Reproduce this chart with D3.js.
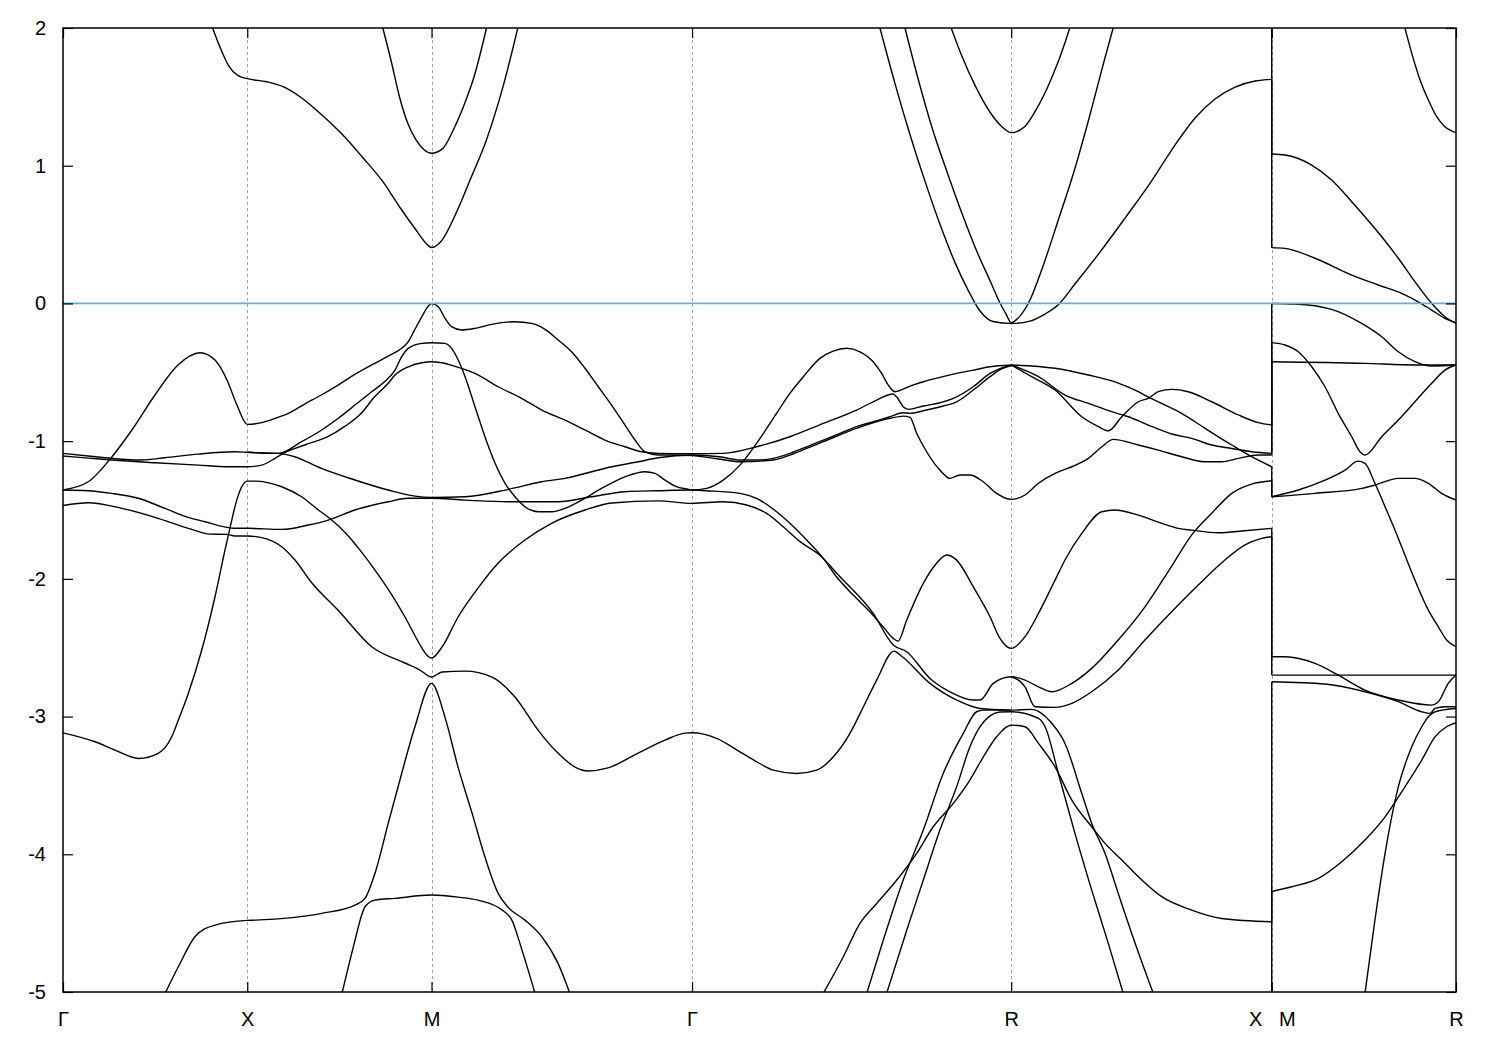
<!DOCTYPE html>
<html><head><meta charset="utf-8">
<script src="https://cdn.jsdelivr.net/npm/d3@7"></script>
<style>
body{margin:0;background:#fff;}
svg{display:block;}
</style></head><body>
<svg id="chart" width="1500" height="1050"></svg>
<script>
// high-symmetry path positions (k) and labels
const kTicks=[0,1,2,3.414,5.146,6.560,7.560];
const kLabels=["Γ","X","M","Γ","R","X\u00a0\u00a0\u00a0M","R"];
const eTicks=[2,1,0,-1,-2,-3,-4,-5];

// bands: [k, E(eV)]
const bandTopA=[[0.812,2.0],[0.857,1.845],[0.901,1.722],[0.948,1.656],[1.0,1.632],[1.105,1.610],[1.194,1.574],[1.286,1.501],[1.375,1.405],[1.510,1.235],[1.623,1.065],[1.736,0.884],[1.826,0.702],[1.916,0.533],[1.975,0.430],[2.0,0.406],[2.050,0.448],[2.141,0.678],[2.209,0.896],[2.298,1.187],[2.388,1.574],[2.468,1.998]];
const bandTopB=[[1.736,1.998],[1.780,1.766],[1.826,1.501],[1.871,1.308],[1.916,1.187],[1.961,1.114],[2.0,1.090],[2.062,1.126],[2.118,1.259],[2.187,1.477],[2.231,1.646],[2.298,1.998]];
const bandHump=[[0,-1.355],[0.137,-1.295],[0.266,-1.113],[0.374,-0.919],[0.499,-0.665],[0.624,-0.447],[0.744,-0.358],[0.825,-0.411],[0.890,-0.556],[0.944,-0.738],[1.0,-0.878],[1.078,-0.866],[1.150,-0.835],[1.223,-0.798],[1.311,-0.731],[1.402,-0.665],[1.493,-0.593],[1.584,-0.515],[1.675,-0.447],[1.765,-0.382],[1.838,-0.326],[1.874,-0.278],[1.910,-0.188],[1.947,-0.097],[1.983,-0.019],[2.0,0.0],[2.037,-0.024],[2.073,-0.108],[2.109,-0.169],[2.163,-0.193],[2.236,-0.181],[2.326,-0.152],[2.453,-0.133],[2.543,-0.145],[2.616,-0.188],[2.688,-0.266],[2.760,-0.351],[2.833,-0.471],[2.905,-0.605],[2.977,-0.738],[3.050,-0.883],[3.104,-0.992],[3.158,-1.077],[3.230,-1.101],[3.321,-1.101],[3.414,-1.105],[3.550,-1.128],[3.674,-1.150],[3.855,-1.137],[3.945,-1.101],[4.036,-1.053],[4.126,-1.004],[4.307,-0.907],[4.488,-0.835],[4.560,-0.818],[4.597,-0.827],[4.633,-0.943],[4.687,-1.077],[4.759,-1.210],[4.813,-1.270],[4.868,-1.246],[4.922,-1.246],[4.994,-1.295],[5.067,-1.379],[5.146,-1.423],[5.221,-1.391],[5.294,-1.306],[5.384,-1.234],[5.475,-1.186],[5.565,-1.125],[5.638,-1.041],[5.700,-0.987],[5.836,-1.028],[5.944,-1.065],[6.071,-1.113],[6.198,-1.150],[6.288,-1.150],[6.379,-1.125],[6.488,-1.101],[6.56,-1.101]];
const bandG2=[[0,-1.355],[0.137,-1.360],[0.264,-1.379],[0.409,-1.415],[0.553,-1.488],[0.678,-1.553],[0.771,-1.585],[0.870,-1.621],[0.923,-1.633],[1.0,-1.633],[1.187,-1.641],[1.331,-1.609],[1.440,-1.573],[1.584,-1.500],[1.765,-1.440],[1.874,-1.415],[2.0,-1.415],[2.182,-1.428],[2.417,-1.440],[2.688,-1.440],[2.869,-1.404],[3.050,-1.367],[3.230,-1.360],[3.414,-1.355],[3.488,-1.360],[3.674,-1.379],[3.764,-1.415],[3.873,-1.513],[3.945,-1.597],[4.036,-1.718],[4.126,-1.851],[4.198,-1.985],[4.289,-2.118],[4.379,-2.239],[4.452,-2.350],[4.506,-2.432],[4.532,-2.452],[4.579,-2.299],[4.669,-2.033],[4.741,-1.887],[4.795,-1.827],[4.850,-1.864],[4.940,-2.057],[5.031,-2.275],[5.085,-2.432],[5.146,-2.505],[5.221,-2.420],[5.294,-2.251],[5.384,-2.009],[5.438,-1.863],[5.529,-1.670],[5.638,-1.513],[5.709,-1.500],[5.836,-1.537],[5.963,-1.597],[6.053,-1.633],[6.125,-1.646],[6.270,-1.665],[6.413,-1.651],[6.56,-1.633]];
const bandG3=[[0,-1.467],[0.137,-1.447],[0.319,-1.488],[0.499,-1.553],[0.680,-1.633],[0.798,-1.675],[0.888,-1.677],[0.933,-1.689],[1.0,-1.689],[1.078,-1.701],[1.187,-1.767],[1.259,-1.863],[1.351,-2.030],[1.492,-2.226],[1.677,-2.495],[1.856,-2.611],[1.937,-2.662],[2.0,-2.713],[2.057,-2.676],[2.182,-2.670],[2.328,-2.713],[2.453,-2.858],[2.578,-3.098],[2.686,-3.265],[2.779,-3.367],[2.849,-3.395],[2.958,-3.373],[3.121,-3.265],[3.267,-3.171],[3.376,-3.120],[3.414,-3.118],[3.547,-3.158],[3.674,-3.256],[3.764,-3.328],[3.855,-3.389],[3.982,-3.413],[4.090,-3.389],[4.181,-3.292],[4.271,-3.122],[4.344,-2.929],[4.416,-2.735],[4.510,-2.525],[4.550,-2.560],[4.705,-2.759],[4.850,-2.880],[4.977,-2.941],[5.146,-2.953]];
const bandG4=[[0,-3.118],[0.174,-3.183],[0.282,-3.243],[0.409,-3.304],[0.517,-3.267],[0.590,-3.147],[0.626,-3.025],[0.680,-2.832],[0.753,-2.517],[0.825,-2.130],[0.879,-1.791],[0.906,-1.631],[0.943,-1.428],[0.970,-1.331],[1.0,-1.290],[1.042,-1.290],[1.187,-1.331],[1.295,-1.404],[1.386,-1.500],[1.440,-1.553],[1.536,-1.670],[1.612,-1.791],[1.693,-1.936],[1.775,-2.096],[1.856,-2.277],[1.945,-2.495],[1.974,-2.553],[2.0,-2.575],[2.057,-2.495],[2.144,-2.277],[2.252,-2.067],[2.361,-1.886],[2.507,-1.718],[2.654,-1.595],[2.833,-1.500],[2.979,-1.449],[3.229,-1.434],[3.414,-1.452],[3.583,-1.440],[3.710,-1.464],[3.819,-1.525],[3.909,-1.622],[4.0,-1.730],[4.100,-1.820],[4.217,-1.985],[4.397,-2.251],[4.506,-2.481],[4.579,-2.529],[4.705,-2.723],[4.814,-2.820],[4.940,-2.880],[4.977,-2.880],[5.049,-2.759],[5.146,-2.711],[5.221,-2.735],[5.294,-2.784],[5.367,-2.820],[5.475,-2.759],[5.583,-2.650],[5.727,-2.444],[5.872,-2.203],[6.017,-1.907],[6.125,-1.682],[6.234,-1.524],[6.343,-1.379],[6.451,-1.312],[6.56,-1.288]];
const bandGXu=[[0,-1.089],[0.137,-1.108],[0.264,-1.125],[0.427,-1.137],[0.553,-1.121],[0.734,-1.094],[0.933,-1.077],[1.0,-1.081],[1.078,-1.086],[1.169,-1.089],[1.295,-1.004],[1.404,-0.919],[1.494,-0.834],[1.585,-0.738],[1.675,-0.641],[1.745,-0.569],[1.802,-0.484],[1.838,-0.387],[1.874,-0.326],[1.947,-0.290],[2.0,-0.285],[2.073,-0.290],[2.109,-0.326],[2.145,-0.411],[2.182,-0.532],[2.236,-0.750],[2.290,-0.968],[2.345,-1.161],[2.399,-1.306],[2.453,-1.404],[2.507,-1.476],[2.580,-1.513],[2.652,-1.513],[2.724,-1.488],[2.815,-1.428],[2.923,-1.343],[3.050,-1.259],[3.158,-1.222],[3.213,-1.234],[3.267,-1.283],[3.321,-1.326],[3.394,-1.350],[3.414,-1.355],[3.493,-1.343],[3.583,-1.283],[3.674,-1.174],[3.764,-1.016],[3.855,-0.834],[3.945,-0.653],[4.018,-0.532],[4.108,-0.399],[4.180,-0.346],[4.253,-0.326],[4.325,-0.351],[4.397,-0.423],[4.443,-0.508],[4.479,-0.593],[4.515,-0.641],[4.597,-0.600],[4.669,-0.569],[4.759,-0.537],[4.850,-0.508],[4.940,-0.484],[5.031,-0.460],[5.146,-0.447]];
const bandGXl=[[0,-1.108],[0.137,-1.123],[0.264,-1.137],[0.499,-1.157],[0.734,-1.174],[0.897,-1.186],[1.0,-1.186],[1.078,-1.174],[1.150,-1.125],[1.187,-1.094],[1.311,-1.028],[1.437,-0.968],[1.527,-0.895],[1.619,-0.798],[1.691,-0.678],[1.765,-0.580],[1.802,-0.520],[1.874,-0.460],[1.947,-0.431],[2.0,-0.423],[2.055,-0.431],[2.145,-0.464],[2.236,-0.508],[2.362,-0.605],[2.489,-0.689],[2.598,-0.774],[2.724,-0.847],[2.833,-0.919],[2.941,-0.992],[3.050,-1.041],[3.140,-1.077],[3.230,-1.089],[3.414,-1.092],[3.583,-1.089],[3.764,-1.041],[3.945,-0.968],[4.126,-0.871],[4.307,-0.774],[4.416,-0.702],[4.503,-0.658],[4.524,-0.678],[4.560,-0.750],[4.588,-0.769],[4.669,-0.745],[4.759,-0.721],[4.832,-0.689],[4.940,-0.605],[5.031,-0.508],[5.103,-0.464],[5.146,-0.452]];
const bandXMd=[[1.0,-1.081],[1.078,-1.086],[1.169,-1.089],[1.257,-1.113],[1.402,-1.198],[1.584,-1.282],[1.765,-1.355],[1.910,-1.399],[2.0,-1.408],[2.182,-1.404],[2.417,-1.350],[2.598,-1.295],[2.724,-1.270],[2.869,-1.222],[2.977,-1.186],[3.122,-1.150],[3.230,-1.121],[3.414,-1.101],[3.562,-1.113],[3.674,-1.137],[3.764,-1.137],[3.855,-1.125],[3.945,-1.089],[4.036,-1.041],[4.126,-0.992],[4.217,-0.943],[4.307,-0.895],[4.397,-0.859],[4.488,-0.823],[4.560,-0.794],[4.597,-0.798],[4.669,-0.779],[4.777,-0.745],[4.850,-0.714],[4.940,-0.629],[5.031,-0.532],[5.094,-0.476],[5.146,-0.452]];
const bandG5=[[0.554,-5.01],[0.626,-4.817],[0.716,-4.599],[0.825,-4.514],[1.0,-4.48],[1.042,-4.478],[1.404,-4.429],[1.585,-4.369],[1.639,-4.320],[1.693,-4.139],[1.765,-3.776],[1.838,-3.413],[1.910,-3.074],[2.0,-2.759],[2.073,-3.004],[2.144,-3.367],[2.220,-3.701],[2.290,-4.020],[2.361,-4.282],[2.415,-4.384],[2.507,-4.478],[2.600,-4.601],[2.686,-4.790],[2.751,-5.01]];
const bandG6=[[1.514,-5.01],[1.585,-4.623],[1.621,-4.441],[1.639,-4.381],[1.693,-4.333],[1.802,-4.320],[2.0,-4.296],[2.144,-4.311],[2.252,-4.333],[2.383,-4.405],[2.436,-4.478],[2.491,-4.696],[2.562,-5.01]];
const bandR1=[[4.434,1.998],[4.515,1.598],[4.596,1.229],[4.678,0.888],[4.759,0.576],[4.840,0.300],[4.912,0.097],[4.977,-0.055],[5.047,-0.131],[5.146,-0.145],[5.248,-0.128],[5.329,-0.077],[5.400,-0.012],[5.492,0.141],[5.628,0.373],[5.764,0.620],[5.900,0.874],[6.035,1.150],[6.144,1.346],[6.252,1.484],[6.361,1.571],[6.470,1.615],[6.56,1.627]];
const bandR2=[[4.570,1.998],[4.641,1.630],[4.717,1.274],[4.798,0.954],[4.880,0.649],[4.961,0.373],[5.032,0.163],[5.085,0.003],[5.118,-0.077],[5.146,-0.140],[5.193,-0.092],[5.248,0.025],[5.319,0.272],[5.400,0.599],[5.484,0.945],[5.566,1.332],[5.647,1.744],[5.699,1.998]];
const bandR3=[[4.821,1.998],[4.872,1.816],[4.953,1.574],[5.035,1.381],[5.096,1.283],[5.146,1.240],[5.219,1.283],[5.280,1.404],[5.361,1.622],[5.443,1.913],[5.463,1.998]];
const bandRXa=[[5.146,-0.447],[5.384,-0.471],[5.565,-0.520],[5.709,-0.569],[5.836,-0.641],[5.881,-0.673],[5.963,-0.726],[6.071,-0.798],[6.198,-0.907],[6.343,-1.028],[6.451,-1.113],[6.56,-1.186]];
const bandRXb=[[5.146,-0.447],[5.257,-0.532],[5.384,-0.629],[5.529,-0.823],[5.619,-0.895],[5.673,-0.925],[5.746,-0.823],[5.836,-0.714],[5.890,-0.689],[5.944,-0.641],[6.017,-0.624],[6.107,-0.641],[6.234,-0.714],[6.379,-0.810],[6.487,-0.866],[6.56,-0.883]];
const bandRXd=[[5.146,-0.447],[5.294,-0.532],[5.438,-0.665],[5.565,-0.726],[5.692,-0.786],[5.782,-0.823],[5.890,-0.883],[6.017,-0.948],[6.125,-0.980],[6.234,-1.028],[6.343,-1.053],[6.451,-1.077],[6.56,-1.089]];
const bandRXh=[[5.146,-2.711],[5.221,-2.784],[5.275,-2.929],[5.384,-2.933],[5.475,-2.904],[5.583,-2.820],[5.727,-2.662],[5.872,-2.444],[6.017,-2.239],[6.161,-2.045],[6.306,-1.863],[6.415,-1.754],[6.505,-1.706],[6.56,-1.694]];
const bandL1=[[4.126,-5.01],[4.235,-4.744],[4.325,-4.502],[4.416,-4.357],[4.525,-4.187],[4.633,-3.993],[4.723,-3.800],[4.832,-3.630],[4.922,-3.461],[4.995,-3.292],[5.067,-3.147],[5.146,-3.062],[5.221,-3.074],[5.294,-3.195],[5.384,-3.365],[5.475,-3.606],[5.583,-3.800],[5.655,-3.921],[5.746,-4.041],[5.836,-4.163],[5.963,-4.308],[6.125,-4.405],[6.288,-4.466],[6.56,-4.490]];
const bandL2=[[4.362,-5.01],[4.452,-4.623],[4.560,-4.187],[4.669,-3.824],[4.777,-3.413],[4.886,-3.122],[4.958,-2.965],[4.995,-2.953],[5.146,-2.953],[5.257,-2.948],[5.366,-3.049],[5.438,-3.195],[5.529,-3.558],[5.583,-3.776],[5.655,-3.993],[5.727,-4.284],[5.800,-4.575],[5.917,-5.01]];
const bandL3=[[4.470,-5.01],[4.579,-4.551],[4.669,-4.187],[4.759,-3.824],[4.850,-3.510],[4.922,-3.219],[4.976,-3.074],[5.031,-2.995],[5.085,-2.967],[5.146,-2.965],[5.294,-3.013],[5.330,-3.074],[5.402,-3.413],[5.492,-3.848],[5.583,-4.260],[5.673,-4.647],[5.754,-5.01]];
// M-R segment
const bandMR1=[[7.283,1.998],[7.320,1.816],[7.365,1.622],[7.410,1.477],[7.455,1.356],[7.500,1.283],[7.56,1.240]];
const bandMR2=[[6.56,1.085],[6.632,1.078],[6.777,1.005],[6.885,0.896],[6.994,0.739],[7.066,0.630],[7.157,0.484],[7.247,0.328],[7.337,0.158],[7.428,0.001],[7.500,-0.097],[7.56,-0.145]];
const bandMR3=[[6.56,0.405],[6.632,0.400],[6.795,0.328],[6.994,0.206],[7.138,0.134],[7.265,0.073],[7.355,0.012],[7.428,-0.048],[7.500,-0.108],[7.56,-0.140]];
const bandMR4=[[6.56,0.0],[6.686,-0.004],[6.885,-0.043],[7.048,-0.145],[7.157,-0.242],[7.247,-0.351],[7.337,-0.423],[7.428,-0.455],[7.56,-0.447]];
const bandMR5=[[6.56,-0.423],[7.066,-0.435],[7.337,-0.447],[7.56,-0.447]];
const bandMR6=[[6.56,-0.285],[6.632,-0.302],[6.704,-0.351],[6.777,-0.460],[6.849,-0.605],[6.921,-0.798],[6.994,-0.968],[7.039,-1.077],[7.066,-1.101],[7.157,-0.968],[7.247,-0.847],[7.337,-0.714],[7.428,-0.580],[7.500,-0.484],[7.56,-0.447]];
const bandMR7=[[6.56,-1.404],[6.704,-1.355],[6.849,-1.283],[6.958,-1.210],[7.028,-1.145],[7.066,-1.161],[7.120,-1.306],[7.175,-1.476],[7.247,-1.706],[7.265,-1.767],[7.337,-2.009],[7.410,-2.227],[7.464,-2.348],[7.509,-2.444],[7.56,-2.493]];
const bandMR8=[[6.56,-1.404],[6.795,-1.379],[7.048,-1.343],[7.120,-1.319],[7.247,-1.270],[7.337,-1.270],[7.410,-1.306],[7.482,-1.379],[7.56,-1.428]];
const bandMR9=[[6.56,-2.566],[6.632,-2.566],[6.795,-2.614],[6.921,-2.699],[7.066,-2.808],[7.247,-2.880],[7.428,-2.917],[7.464,-2.893],[7.518,-2.759],[7.56,-2.699]];
const bandMR10=[[6.56,-2.699],[7.56,-2.699]];
const bandMR11=[[6.56,-2.747],[6.849,-2.764],[7.066,-2.820],[7.247,-2.892],[7.374,-2.965],[7.419,-2.977],[7.446,-2.941],[7.500,-2.929],[7.56,-2.929]];
const bandMR12=[[7.066,-5.01],[7.120,-4.478],[7.175,-3.993],[7.247,-3.510],[7.320,-3.219],[7.374,-3.074],[7.410,-3.001],[7.446,-2.965],[7.56,-2.941]];
const bandMR13=[[6.56,-4.27],[6.668,-4.236],[6.813,-4.175],[6.940,-4.054],[7.066,-3.897],[7.175,-3.728],[7.283,-3.510],[7.374,-3.316],[7.446,-3.147],[7.509,-3.074],[7.56,-3.045]];
// vertical jumps at the X|M break: [E at X, E at M]
const xmJumps=[[2.5,1.085],[1.627,0.405],[-0.883,0.0],[-1.089,-0.285],[-1.101,-0.423],[-1.186,-1.404],[-1.288,-1.404],[-1.633,-2.566],[-1.694,-2.699],[-4.490,-2.747],[-5.5,-4.27]];

const bands=[bandTopA,bandTopB,bandHump,bandG2,bandG3,bandG4,bandGXu,bandGXl,bandXMd,bandG5,bandG6,
  bandR1,bandR2,bandR3,bandRXa,bandRXb,bandRXd,bandRXh,bandL1,bandL2,bandL3,
  bandMR1,bandMR2,bandMR3,bandMR4,bandMR5,bandMR6,bandMR7,bandMR8,bandMR9,bandMR10,bandMR11,bandMR12,bandMR13];

const L=63,R=1456,T=28,B=992;
const x=d3.scaleLinear().domain([0,7.56]).range([L,R]);
const y=d3.scaleLinear().domain([-5,2]).range([B,T]);
const svg=d3.select("#chart");
const FONT='"Liberation Sans", Arial, Helvetica, sans-serif';

svg.append("defs").append("clipPath").attr("id","clip")
  .append("rect").attr("x",L).attr("y",T).attr("width",R-L).attr("height",B-T);

// grid
svg.append("g").selectAll("line").data(kTicks.slice(1,-1)).join("line")
  .attr("x1",d=>Math.round(x(d))+0.5).attr("x2",d=>Math.round(x(d))+0.5)
  .attr("y1",T).attr("y2",B)
  .attr("stroke","#a0a0a0").attr("stroke-width",1).attr("stroke-dasharray","3,3");

const line=d3.line().x(d=>x(d[0])).y(d=>y(d[1])).curve(d3.curveMonotoneX);
const gp=svg.append("g").attr("clip-path","url(#clip)");
gp.selectAll("path.band").data(bands).join("path").attr("class","band")
  .attr("d",line).attr("fill","none").attr("stroke","#000").attr("stroke-width",1.4)
  .attr("stroke-linejoin","round");
gp.selectAll("line.jump").data(xmJumps).join("line").attr("class","jump")
  .attr("x1",x(kTicks[5])).attr("x2",x(kTicks[5]))
  .attr("y1",d=>y(d[0])).attr("y2",d=>y(d[1]))
  .attr("stroke","#000").attr("stroke-width",1.4);
gp.append("line").attr("x1",L).attr("x2",R).attr("y1",y(0)).attr("y2",y(0))
  .attr("stroke","#56b4e9").attr("stroke-width",1.8);

function styleAxis(g){
  g.select(".domain").remove();
  g.selectAll(".tick line").attr("stroke","#000").attr("stroke-width",1.2);
  g.selectAll("text").attr("fill","#000").style("font-family",FONT).style("font-size","20px");
}
svg.append("g").attr("transform",`translate(${L},0)`)
  .call(d3.axisLeft(y).tickValues(eTicks).tickSize(-10).tickPadding(17).tickFormat(d=>String(d)))
  .call(styleAxis);
svg.append("g").attr("transform",`translate(${R},0)`)
  .call(d3.axisRight(y).tickValues(eTicks).tickSize(-10).tickFormat(""))
  .call(styleAxis);
svg.append("g").attr("transform",`translate(0,${B})`)
  .call(d3.axisBottom(x).tickValues(kTicks).tickSize(-10).tickPadding(20).tickFormat((d,i)=>kLabels[i]))
  .call(styleAxis);
svg.append("g").attr("transform",`translate(0,${T})`)
  .call(d3.axisTop(x).tickValues(kTicks).tickSize(-10).tickFormat(""))
  .call(styleAxis);

svg.append("rect").attr("x",L).attr("y",T).attr("width",R-L).attr("height",B-T)
  .attr("fill","none").attr("stroke","#000").attr("stroke-width",1.5);
</script>
</body></html>
